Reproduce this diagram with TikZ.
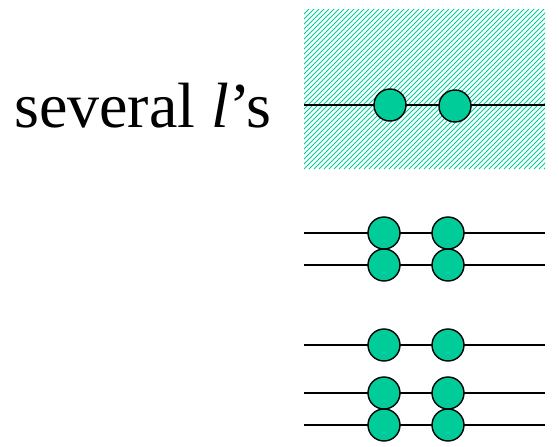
\documentclass[tikz,border=0pt]{standalone}
\usepackage{fontspec}
\setmainfont{Liberation Serif}
\definecolor{bead}{RGB}{0,204,153}
\begin{document}
\begin{tikzpicture}[x=1pt,y=-1pt,
  wire/.style={draw=black,line width=1.6pt},
  bead/.style={circle,draw=black,fill=bead,line width=1.4pt,minimum size=32pt,inner sep=0pt},
  hatch/.style={draw=bead,line width=0.9pt}]
\useasboundingbox (0,0) rectangle (558,447);
% hatched region
\begin{scope}
  \clip (304,9) rectangle (545,169);
  \foreach \k in {0,5,...,425}
    \draw[hatch] (304+\k-170,169) -- (304+\k,-1);
\end{scope}
\node[anchor=base west,font=\fontsize{64}{72}\selectfont,inner sep=0pt] (lbl) at (14,127) {several \textit{l}’s};
% single line with two beads
\coordinate (a0) at (304,105); \coordinate (b0) at (545,105);
\draw[wire] (a0) -- (b0);
\node[bead] (p1) at (390,105) {};
\node[bead] (p2) at (455,106) {};
% lower groups of lines
\foreach \y/\n in {233/1,265/2,345/3,393/4,425/5}{
  \coordinate (l\n) at (304,\y); \coordinate (r\n) at (545,\y);
  \draw[wire] (l\n) -- (r\n);
}
\foreach \y/\n in {233/1,265/2,345/3,393/4,425/5}{
  \node[bead] (u\n) at (384,\y) {};
  \node[bead] (v\n) at (448,\y) {};
}
\end{tikzpicture}
\end{document}
